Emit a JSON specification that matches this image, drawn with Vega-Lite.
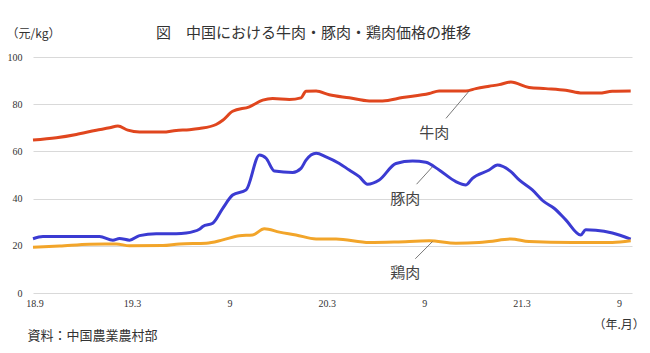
{
  "$schema": "https://vega.github.io/schema/vega-lite/v6.json",
  "width": 599,
  "height": 236,
  "autosize": {"type": "none"},
  "padding": {"left": 33, "top": 57, "right": 18, "bottom": 60},
  "background": "white",
  "title": {
    "text": "図　中国における牛肉・豚肉・鶏肉価格の推移",
    "font": "Noto Sans CJK JP",
    "fontSize": 15,
    "fontWeight": "normal",
    "color": "#333333",
    "anchor": "middle",
    "dx": -19,
    "dy": 28,
    "offset": 14
  },
  "config": {
    "view": {"stroke": null},
    "axis": {
      "labelFont": "Liberation Sans Narrow",
      "labelFontSize": 10,
      "labelColor": "#333333",
      "titleFont": "Noto Sans CJK JP",
      "titleFontWeight": "normal",
      "titleColor": "#333333"
    }
  },
  "datasets": {
    "prices": [
      {"t": -0.10, "m": "牛肉", "v": 64.8}, {"t": 1.34, "m": "牛肉", "v": 65.8}, {"t": 2.57, "m": "牛肉", "v": 67.2},
      {"t": 3.80, "m": "牛肉", "v": 69.0}, {"t": 4.62, "m": "牛肉", "v": 70.0}, {"t": 5.13, "m": "牛肉", "v": 70.8},
      {"t": 5.74, "m": "牛肉", "v": 69.0}, {"t": 6.46, "m": "牛肉", "v": 68.2}, {"t": 7.90, "m": "牛肉", "v": 68.2},
      {"t": 8.72, "m": "牛肉", "v": 68.9}, {"t": 9.54, "m": "牛肉", "v": 69.2}, {"t": 10.15, "m": "牛肉", "v": 69.7},
      {"t": 11.18, "m": "牛肉", "v": 71.4}, {"t": 11.59, "m": "牛肉", "v": 73.2}, {"t": 12.20, "m": "牛肉", "v": 77.0},
      {"t": 13.23, "m": "牛肉", "v": 78.9}, {"t": 14.05, "m": "牛肉", "v": 81.7}, {"t": 14.66, "m": "牛肉", "v": 82.4},
      {"t": 15.69, "m": "牛肉", "v": 82.0}, {"t": 16.41, "m": "牛肉", "v": 82.7}, {"t": 16.72, "m": "牛肉", "v": 85.5},
      {"t": 17.34, "m": "牛肉", "v": 85.6}, {"t": 18.15, "m": "牛肉", "v": 84.0}, {"t": 19.38, "m": "牛肉", "v": 82.7},
      {"t": 20.62, "m": "牛肉", "v": 81.4}, {"t": 21.43, "m": "牛肉", "v": 81.4}, {"t": 22.66, "m": "牛肉", "v": 82.8},
      {"t": 24.31, "m": "牛肉", "v": 84.5}, {"t": 24.92, "m": "牛肉", "v": 85.6}, {"t": 26.57, "m": "牛肉", "v": 85.6},
      {"t": 27.18, "m": "牛肉", "v": 86.6}, {"t": 28.00, "m": "牛肉", "v": 87.6}, {"t": 28.62, "m": "牛肉", "v": 88.3},
      {"t": 29.34, "m": "牛肉", "v": 89.4}, {"t": 30.46, "m": "牛肉", "v": 87.1}, {"t": 31.49, "m": "牛肉", "v": 86.6},
      {"t": 32.72, "m": "牛肉", "v": 85.9}, {"t": 33.74, "m": "牛肉", "v": 84.7}, {"t": 34.77, "m": "牛肉", "v": 84.7},
      {"t": 35.59, "m": "牛肉", "v": 85.5}, {"t": 36.72, "m": "牛肉", "v": 85.6},

      {"t": -0.10, "m": "豚肉", "v": 23.0}, {"t": 0.51, "m": "豚肉", "v": 23.9}, {"t": 4.00, "m": "豚肉", "v": 23.9},
      {"t": 4.82, "m": "豚肉", "v": 22.4}, {"t": 5.23, "m": "豚肉", "v": 23.1}, {"t": 5.85, "m": "豚肉", "v": 22.4},
      {"t": 6.46, "m": "豚肉", "v": 24.3}, {"t": 7.49, "m": "豚肉", "v": 25.1}, {"t": 8.72, "m": "豚肉", "v": 25.1},
      {"t": 9.34, "m": "豚肉", "v": 25.4}, {"t": 10.15, "m": "豚肉", "v": 27.0}, {"t": 10.36, "m": "豚肉", "v": 28.2},
      {"t": 10.97, "m": "豚肉", "v": 29.6}, {"t": 11.59, "m": "豚肉", "v": 35.9}, {"t": 12.20, "m": "豚肉", "v": 41.5},
      {"t": 13.03, "m": "豚肉", "v": 43.7}, {"t": 13.85, "m": "豚肉", "v": 58.5}, {"t": 14.26, "m": "豚肉", "v": 57.1},
      {"t": 14.77, "m": "豚肉", "v": 51.7}, {"t": 15.90, "m": "豚肉", "v": 51.1}, {"t": 16.41, "m": "豚肉", "v": 52.8},
      {"t": 16.72, "m": "豚肉", "v": 56.3}, {"t": 17.34, "m": "豚肉", "v": 59.2}, {"t": 17.95, "m": "豚肉", "v": 57.7},
      {"t": 18.77, "m": "豚肉", "v": 54.9}, {"t": 19.38, "m": "豚肉", "v": 52.1}, {"t": 20.00, "m": "豚肉", "v": 49.3},
      {"t": 20.51, "m": "豚肉", "v": 46.1}, {"t": 21.23, "m": "豚肉", "v": 47.9}, {"t": 22.26, "m": "豚肉", "v": 54.9},
      {"t": 23.28, "m": "豚肉", "v": 55.9}, {"t": 24.10, "m": "豚肉", "v": 55.4}, {"t": 24.92, "m": "豚肉", "v": 52.1},
      {"t": 25.95, "m": "豚肉", "v": 47.2}, {"t": 26.57, "m": "豚肉", "v": 45.8}, {"t": 26.97, "m": "豚肉", "v": 48.6},
      {"t": 28.00, "m": "豚肉", "v": 52.1}, {"t": 28.51, "m": "豚肉", "v": 54.2}, {"t": 29.34, "m": "豚肉", "v": 51.4},
      {"t": 29.85, "m": "豚肉", "v": 47.9}, {"t": 30.66, "m": "豚肉", "v": 43.7}, {"t": 31.38, "m": "豚肉", "v": 38.7},
      {"t": 32.00, "m": "豚肉", "v": 35.9}, {"t": 32.72, "m": "豚肉", "v": 31.0}, {"t": 33.64, "m": "豚肉", "v": 24.6},
      {"t": 33.95, "m": "豚肉", "v": 26.8}, {"t": 34.57, "m": "豚肉", "v": 26.6}, {"t": 35.59, "m": "豚肉", "v": 25.4},
      {"t": 36.72, "m": "豚肉", "v": 22.8},

      {"t": -0.10, "m": "鶏肉", "v": 19.4}, {"t": 1.54, "m": "鶏肉", "v": 19.9}, {"t": 3.38, "m": "鶏肉", "v": 20.7},
      {"t": 5.03, "m": "鶏肉", "v": 20.8}, {"t": 5.85, "m": "鶏肉", "v": 20.0}, {"t": 7.90, "m": "鶏肉", "v": 20.1},
      {"t": 8.92, "m": "鶏肉", "v": 20.8}, {"t": 10.57, "m": "鶏肉", "v": 21.1}, {"t": 11.59, "m": "鶏肉", "v": 22.5},
      {"t": 12.62, "m": "鶏肉", "v": 24.3}, {"t": 13.43, "m": "鶏肉", "v": 24.6}, {"t": 14.15, "m": "鶏肉", "v": 27.2},
      {"t": 15.08, "m": "鶏肉", "v": 25.8}, {"t": 16.10, "m": "鶏肉", "v": 24.6}, {"t": 17.34, "m": "鶏肉", "v": 22.9},
      {"t": 18.57, "m": "鶏肉", "v": 22.9}, {"t": 20.62, "m": "鶏肉", "v": 21.4}, {"t": 22.26, "m": "鶏肉", "v": 21.6},
      {"t": 24.31, "m": "鶏肉", "v": 22.1}, {"t": 25.95, "m": "鶏肉", "v": 21.1}, {"t": 27.38, "m": "鶏肉", "v": 21.4},
      {"t": 28.00, "m": "鶏肉", "v": 21.8}, {"t": 29.34, "m": "鶏肉", "v": 22.9}, {"t": 30.46, "m": "鶏肉", "v": 21.8},
      {"t": 33.13, "m": "鶏肉", "v": 21.4}, {"t": 35.59, "m": "鶏肉", "v": 21.4}, {"t": 36.72, "m": "鶏肉", "v": 22.1}
    ],
    "leaders": [
      {"t": 25.34, "v": 74.0, "t2": 26.77, "v2": 85.6},
      {"t": 23.53, "v": 46.1, "t2": 24.51, "v2": 53.5},
      {"t": 23.45, "v": 14.5, "t2": 24.51, "v2": 21.8}
    ],
    "labels": [
      {"t": 24.62, "v": 67.6, "label": "牛肉"},
      {"t": 22.83, "v": 39.9, "label": "豚肉"},
      {"t": 22.83, "v": 8.5, "label": "鶏肉"}
    ]
  },
  "resolve": {"axis": {"x": "independent"}},
  "layer": [
    {
      "data": {"name": "prices"},
      "mark": {"type": "line", "strokeWidth": 3, "interpolate": "monotone"},
      "encoding": {
        "x": {
          "field": "t", "type": "quantitative",
          "scale": {"domain": [-0.1, 36.8], "nice": false, "zero": false},
          "axis": {
            "values": [0, 6, 12, 18, 24, 30, 36],
            "labelExpr": "['18.9','19.3','9','20.3','9','21.3','9'][round(datum.value/6)]",
            "grid": false, "ticks": false, "tickSize": 0, "domain": false,
            "labelPadding": 5, "labelFlush": false,
            "title": "（年.月）", "titleFontSize": 12,
            "titleX": 560, "titleY": 31, "titleAlign": "left", "titleBaseline": "middle", "titleAnchor": "start"
          }
        },
        "y": {
          "field": "v", "type": "quantitative",
          "scale": {"domain": [0, 100], "nice": false},
          "axis": {
            "values": [0, 20, 40, 60, 80, 100],
            "grid": true, "gridColor": "#d9d9d9", "gridWidth": 1,
            "ticks": false, "tickSize": 0, "domain": false, "labelPadding": 11,
            "title": "（元/kg）", "titleFontSize": 12, "titleAngle": 0,
            "titleX": -27, "titleY": -24, "titleAlign": "left", "titleBaseline": "middle", "titleAnchor": "start"
          }
        },
        "color": {
          "field": "m", "type": "nominal",
          "scale": {"domain": ["牛肉", "豚肉", "鶏肉"], "range": ["#e0461e", "#3b3bd2", "#f2a52a"]},
          "legend": null
        }
      }
    },
    {
      "data": {"name": "leaders"},
      "mark": {"type": "rule", "color": "#555555", "strokeWidth": 0.8},
      "encoding": {
        "x": {
          "field": "t", "type": "quantitative",
          "axis": {
            "orient": "top",
            "labels": false, "ticks": false, "grid": false, "domain": false,
            "title": "資料：中国農業農村部", "titleFontSize": 13,
            "titleX": -6, "titleY": 278, "titleAlign": "left", "titleBaseline": "middle", "titleAnchor": "start"
          }
        },
        "y": {"field": "v", "type": "quantitative"},
        "x2": {"field": "t2"},
        "y2": {"field": "v2"}
      }
    },
    {
      "data": {"name": "labels"},
      "mark": {"type": "text", "font": "Noto Sans CJK JP", "fontSize": 15, "color": "#444444"},
      "encoding": {
        "x": {"field": "t", "type": "quantitative", "axis": null},
        "y": {"field": "v", "type": "quantitative"},
        "text": {"field": "label"}
      }
    }
  ]
}
